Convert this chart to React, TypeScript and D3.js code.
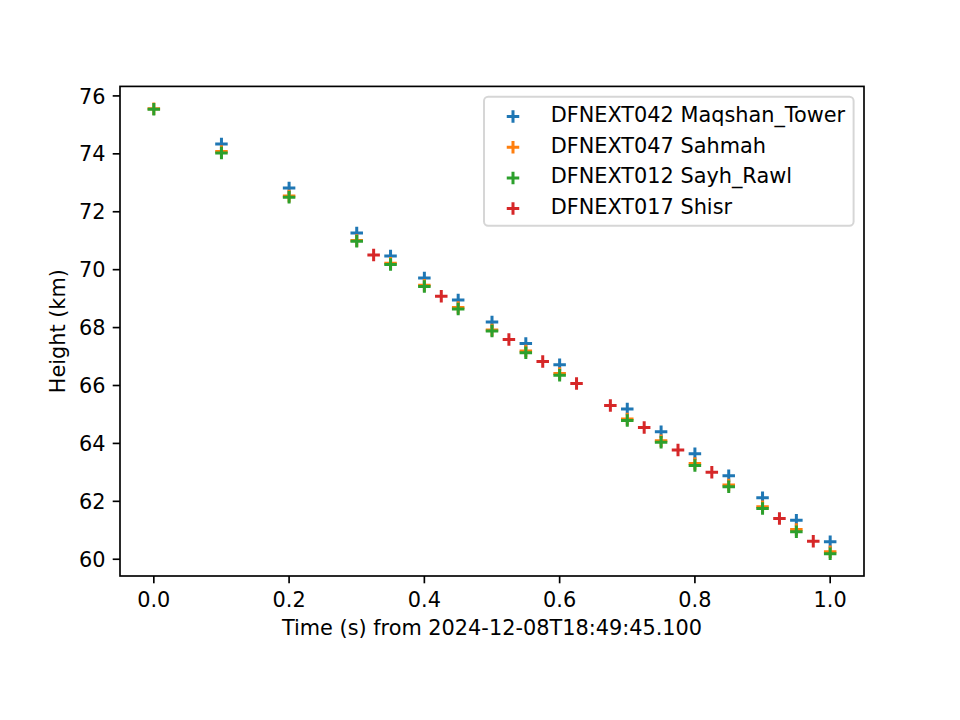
import React from "react";
import * as d3 from "d3";

const seriesNames = [
  "DFNEXT042 Maqshan_Tower",
  "DFNEXT047 Sahmah",
  "DFNEXT012 Sayh_Rawl",
  "DFNEXT017 Shisr",
];
const seriesColors = ["#1f77b4", "#ff7f0e", "#2ca02c", "#d62728"];

const tMaqshan = [0.1, 0.2, 0.3, 0.35, 0.4, 0.45, 0.5, 0.55, 0.6, 0.7, 0.75, 0.8, 0.85, 0.9, 0.95, 1.0];
const hMaqshan = [74.34, 72.82, 71.27, 70.47, 69.71, 68.95, 68.19, 67.45, 66.72, 65.19, 64.4, 63.64, 62.88, 62.12, 61.35, 60.6];

const tSahmah = [0.0, 0.1, 0.2, 0.3, 0.35, 0.4, 0.45, 0.5, 0.55, 0.6, 0.7, 0.75, 0.8, 0.85, 0.9, 0.95, 1.0];
const hSahmah = [75.56, 74.08, 72.54, 71.01, 70.22, 69.46, 68.69, 67.92, 67.19, 66.41, 64.84, 64.09, 63.31, 62.56, 61.81, 61.03, 60.26];

const tSayh = [0.0, 0.1, 0.2, 0.3, 0.35, 0.4, 0.45, 0.5, 0.55, 0.6, 0.7, 0.75, 0.8, 0.85, 0.9, 0.95, 1.0];
const hSayh = [75.54, 74.03, 72.5, 70.98, 70.18, 69.42, 68.64, 67.88, 67.13, 66.35, 64.79, 64.04, 63.24, 62.5, 61.75, 60.95, 60.19];

const tShisr = [0.325, 0.425, 0.525, 0.575, 0.625, 0.675, 0.725, 0.775, 0.825, 0.925, 0.975];
const hShisr = [70.51, 69.08, 67.59, 66.83, 66.07, 65.31, 64.55, 63.77, 63.0, 61.41, 60.62];

const xTicks = [0, 0.2, 0.4, 0.6, 0.8, 1.0];
const yTicks = [60, 62, 64, 66, 68, 70, 72, 74, 76];

const xLabel = "Time (s) from 2024-12-08T18:49:45.100";
const yLabel = "Height (km)";

const W = 960;
const H = 720;
const L = 120, R = 864, T = 86.4, B = 576;
const FS = 20.83;
const FONT = "DejaVu Sans, sans-serif";

function pad(ext: [number, number]): [number, number] {
  const r = ext[1] - ext[0];
  return [ext[0] - 0.05 * r, ext[1] + 0.05 * r];
}

export default function App() {
  const series = [
    { t: tMaqshan, h: hMaqshan },
    { t: tSahmah, h: hSahmah },
    { t: tSayh, h: hSayh },
    { t: tShisr, h: hShisr },
  ];
  const allT = series.flatMap((s) => s.t);
  const allH = series.flatMap((s) => s.h);
  const x = d3.scaleLinear().domain(pad(d3.extent(allT) as [number, number])).range([L, R]);
  const y = d3.scaleLinear().domain(pad(d3.extent(allH) as [number, number])).range([B, T]);

  const ms = 6.25;
  const cross = (cx: number, cy: number, color: string, key: string) => (
    <path
      key={key}
      d={`M${cx - ms},${cy}H${cx + ms}M${cx},${cy - ms}V${cy + ms}`}
      stroke={color}
      strokeWidth={3}
      fill="none"
    />
  );

  const legX = 484, legY = 96.8, legW = 369.6, legH = 129;
  const rowPitch = 30.7;
  const row0 = 114.5;

  return (
    <svg width={W} height={H} style={{ position: "absolute", left: 0, top: 0, background: "#fff" }} fontFamily={FONT}>
      <rect x={0} y={0} width={W} height={H} fill="#fff" />
      {/* points */}
      {series.map((s, si) =>
        s.t.map((tv, i) => cross(x(tv), y(s.h[i]), seriesColors[si], `p${si}-${i}`))
      )}
      {/* spines */}
      <rect x={L} y={T} width={R - L} height={B - T} fill="none" stroke="#000" strokeWidth={1.67} />
      {/* x ticks */}
      {xTicks.map((tv) => (
        <g key={`xt${tv}`}>
          <line x1={x(tv)} x2={x(tv)} y1={B} y2={B + 7.3} stroke="#000" strokeWidth={1.67} />
          <text x={x(tv)} y={606.5} textAnchor="middle" fontSize={FS} fill="#000">
            {d3.format(".1f")(tv)}
          </text>
        </g>
      ))}
      {/* y ticks */}
      {yTicks.map((hv) => (
        <g key={`yt${hv}`}>
          <line x1={L - 7.3} x2={L} y1={y(hv)} y2={y(hv)} stroke="#000" strokeWidth={1.67} />
          <text x={105.4} y={y(hv) + 7.6} textAnchor="end" fontSize={FS} fill="#000">
            {hv}
          </text>
        </g>
      ))}
      <text x={(L + R) / 2} y={634.5} textAnchor="middle" fontSize={FS} fill="#000">
        {xLabel}
      </text>
      <text
        transform={`translate(65,${(T + B) / 2}) rotate(-90)`}
        textAnchor="middle"
        fontSize={FS}
        fill="#000"
      >
        {yLabel}
      </text>
      {/* legend */}
      <rect
        x={legX}
        y={legY}
        width={legW}
        height={legH}
        rx={4.2}
        ry={4.2}
        fill="#fff"
        fillOpacity={0.8}
        stroke="#cccccc"
        strokeOpacity={0.8}
        strokeWidth={2}
      />
      {seriesNames.map((name, i) => (
        <g key={`lg${i}`}>
          {cross(513, row0 + i * rowPitch + 2, seriesColors[i], `lm${i}`)}
          <text x={550.7} y={row0 + i * rowPitch + 7.5} fontSize={FS} fill="#000">
            {name}
          </text>
        </g>
      ))}
    </svg>
  );
}
